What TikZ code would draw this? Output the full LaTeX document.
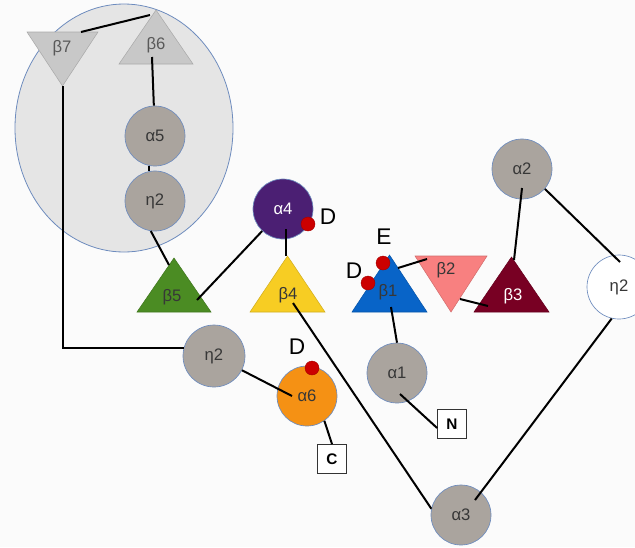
\documentclass[tikz,border=0pt]{standalone}
\usepackage{fontspec}
\setmainfont{Liberation Sans}
\usetikzlibrary{calc}
\definecolor{bgc}{RGB}{251,251,251}
\definecolor{greyc}{RGB}{170,164,158}
\definecolor{bordc}{RGB}{110,140,190}
\definecolor{ellc}{RGB}{229,229,229}
\definecolor{trigrey}{RGB}{200,200,200}
\definecolor{purp}{RGB}{75,31,115}
\definecolor{reddot}{RGB}{204,0,0}
\definecolor{greenc}{RGB}{75,140,35}
\definecolor{yellowc}{RGB}{247,205,35}
\definecolor{bluec}{RGB}{8,100,200}
\definecolor{salmon}{RGB}{248,128,128}
\definecolor{darkred}{RGB}{120,0,35}
\definecolor{orangec}{RGB}{245,145,20}
\definecolor{txtc}{RGB}{55,55,55}
\tikzset{
  circ/.style={circle, draw=bordc, line width=0.5pt, minimum size=45pt, inner sep=0pt,
    font=\fontsize{12.5}{14}\selectfont, text=txtc},
  greycirc/.style={circ, fill=greyc},
  dot/.style={circle, fill=reddot, draw=reddot!80!black, line width=0.3pt, minimum size=10.5pt, inner sep=0pt},
  lbl/.style={inner sep=0pt, font=\fontsize{12.5}{14}\selectfont, text=txtc},
  biglbl/.style={inner sep=0pt, font=\fontsize{17}{19}\selectfont},
  boxn/.style={draw=black!80, fill=white, line width=0.6pt, minimum size=21.75pt, inner sep=0pt,
    font=\fontsize{11.5}{13}\selectfont\bfseries},
  conn/.style={line width=1.5pt, black}
}
% #1 name, #2 centre x, #3 base y, #4 apex y, #5 half width, #6 colour, #7 label position, #8 text, #9 text colour
\newcommand\mytri[9]{%
  \filldraw[fill=#6, draw=#6!85!black, line width=0.4pt] (#2-#5,#3) -- (#2+#5,#3) -- (#2,#4) -- cycle;
  \node[lbl, text=#9] (#1) at (#7) {#8};}
\begin{document}
\begin{tikzpicture}[x=0.75pt,y=-0.75pt]
\useasboundingbox (0,0) rectangle (635,547);
\fill[bgc] (0,0) rectangle (635,547);
% group ellipse
\filldraw[fill=ellc, draw=bordc, line width=0.6pt] (124,128) ellipse [x radius=109, y radius=124];
% triangles
\mytri{b7}{62.5}{32}{86}{35.5}{trigrey}{62,48}{β7}{black!65}
\mytri{b6}{156}{64}{10}{37}{trigrey}{156,45}{β6}{black!65}
\mytri{b5}{174}{312}{258}{37}{greenc}{172,297}{β5}{txtc}
\mytri{b4}{287.5}{312}{256}{37.5}{yellowc}{288,295}{β4}{txtc}
\mytri{b1}{389.5}{312}{255}{37.5}{bluec}{388,292}{β1}{txtc}
\mytri{b2}{451}{256}{312}{36}{salmon}{446,270}{β2}{txtc}
\mytri{b3}{511.5}{312}{257}{37.5}{darkred}{513,296}{β3}{white}
% circles
\node[greycirc] (a5) at (155,136) {α5};
\node[greycirc] (e2a) at (155,201) {η2};
\node[circ, fill=purp, text=white] (a4) at (283,209) {α4};
\node[greycirc] (a2) at (522,169) {α2};
\node[circ, fill=white, minimum size=48pt] (e2c) at (619,287) {η2};
\node[greycirc] (a1) at (397,373) {α1};
\node[greycirc, minimum size=46.5pt] (e2b) at (214,356) {η2};
\node[circ, fill=orangec] (a6) at (307,396) {α6};
\node[greycirc] (a3) at (461,515) {α3};
% boxes
\node[boxn] (N) at (452,424) {N};
\node[boxn] (C) at (332,459) {C};
% connectors
\draw[conn] ($(b7)+(19,-16)$) -- ($(b6)+(-6,-30)$);
\draw[conn] ($(b7)+(1,38)$) |- (e2b.165);
\draw[conn] ($(b6)+(-4,12)$) -- (a5);
\draw[conn] (a5.258) -- (e2a.102);
\draw[conn] (e2a.262) -- ($(b5)+(-3,-32)$);
\draw[conn] (a4) -- ($(b5)+(25,3)$);
\draw[conn] ($(a4)+(3,20)$) -- ($(b4)+(-2,-39)$);
\draw[conn] ($(b4)+(5,8)$) -- (a3.168);
\draw[conn] ($(a3)+(14,-15)$) -- (e2c.257);
\draw[conn] (a2.-41) -- ($(e2c)+(1,-25)$);
\draw[conn] ($(a2)+(0,19)$) -- ($(b3)+(1,-36)$);
\draw[conn] ($(b2)+(14,29)$) -- ($(b3)+(-25,10)$);
\draw[conn] ($(b1)+(10,-24)$) -- ($(b2)+(-19,-11)$);
\draw[conn] ($(b1)+(3,15)$) -- (a1.north);
\draw[conn] ($(a1)+(3,21)$) -- ($(N.west)+(0,4)$);
\draw[conn] (e2b.-27) -- ($(a6)+(-15,0)$);
\draw[conn] (a6.-55) -- (C.north);
% red dots and labels
\node[dot] (d1) at (308,224) {};
\node[dot] (d2) at (312,368) {};
\node[dot] (d3) at (383,263) {};
\node[dot] (d4) at (368,283) {};
\node[biglbl] (l1) at (328,217) {D};
\node[biglbl] (l2) at (297,347) {D};
\node[biglbl] (l3) at (384,237) {E};
\node[biglbl] (l4) at (354,271) {D};
\end{tikzpicture}
\end{document}
